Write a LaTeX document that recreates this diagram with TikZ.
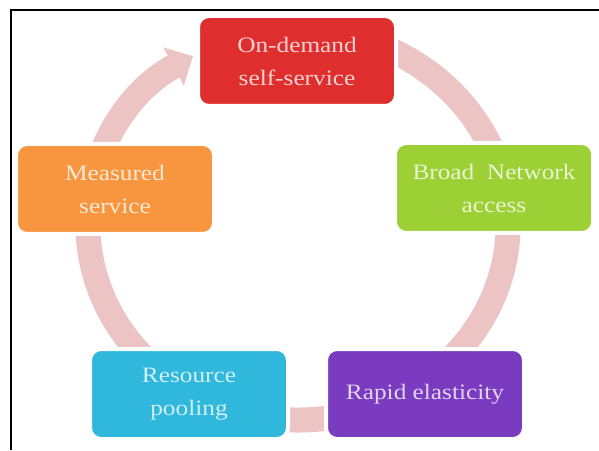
\documentclass[tikz,border=0pt]{standalone}
\usepackage{fontspec}
\setmainfont{Liberation Serif}[FakeStretch=1.15]
\usetikzlibrary{arrows.meta}

\definecolor{ringpink}{HTML}{ECC4C4}
\definecolor{boxred}{HTML}{DE2F2E}
\definecolor{boxgreen}{HTML}{9DD035}
\definecolor{boxorange}{HTML}{F8963F}
\definecolor{boxcyan}{HTML}{2FB7DC}
\definecolor{boxpurple}{HTML}{7A3BC0}

\tikzset{
  cyclebox/.style={rounded corners=11pt, draw=white, line width=4pt,
    minimum width=198pt, minimum height=90pt, align=center,
    font=\fontsize{22}{33}\selectfont},
}

\begin{document}
\begin{tikzpicture}[x=1pt,y=1pt]
  \useasboundingbox (0,0) rectangle (599,450);

  % Ring with arrow
  \draw[ringpink, line width=25pt, -{Triangle[width=42pt,length=22pt]}]
    (298,225) ++(100:210pt and 195pt)
    arc[start angle=100, end angle=-240, x radius=210pt, y radius=195pt];

  % Boxes
  \foreach \name/\x/\y/\col/\txt in {
      ondemand/297/389/boxred/{On-demand\\self-service},
      broad/494/262/boxgreen/{Broad~~Network\\access},
      rapid/425/56/boxpurple/{Rapid elasticity},
      pooling/189/56/boxcyan/{Resource\\pooling},
      measured/115/261/boxorange/{Measured\\service}} {
    \node[cyclebox, fill=\col, text=white!78!\col] (\name) at (\x,\y) {\txt};
  }

  % Frame
  \draw[line width=2pt] (11,0) -- (11,440) -- (599,440);

\end{tikzpicture}
\end{document}
